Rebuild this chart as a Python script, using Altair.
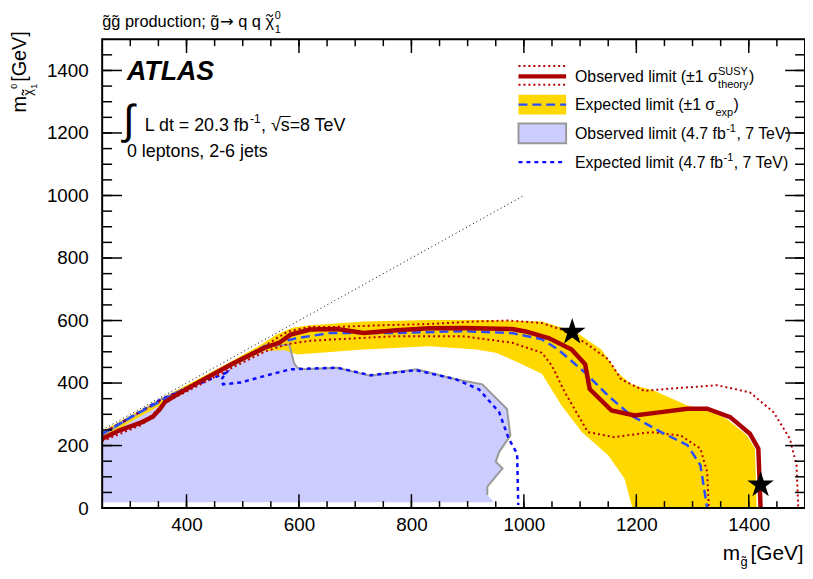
import altair as alt
import pandas as pd

# ---------------- data ----------------
# observed limit (8 TeV, 20.3 fb-1)
obs_x = [250, 280, 321, 340, 352, 362, 380, 421, 480, 539, 565, 585, 620, 668, 715, 774, 832, 891, 979,
         1003, 1044, 1085, 1109, 1117, 1156, 1197, 1244, 1291, 1326, 1367, 1402, 1417, 1421]
obs_y = [222, 248, 275, 292, 315, 340, 360, 402, 460, 513, 529, 555, 571, 573, 560, 569, 575, 576, 573,
         565, 544, 507, 460, 381, 312, 296, 307, 318, 318, 291, 238, 190, 0]
# observed +1 sigma(theory)
obs_up_x = [250, 300, 356, 420, 480, 540, 580, 620, 656, 750, 832, 915, 973, 1032, 1067, 1109,
            1150, 1173, 1214, 1267, 1344, 1402, 1444, 1473, 1485, 1488]
obs_up_y = [238, 290, 345, 405, 463, 520, 565, 580, 579, 585, 589, 597, 600, 592, 571, 529,
            476, 412, 375, 383, 393, 370, 307, 222, 137, 0]
# observed -1 sigma(theory)
obs_dn_x = [250, 321, 362, 421, 480, 539, 580, 620, 656, 774, 891, 979, 1032, 1050, 1073, 1114,
            1161, 1226, 1279, 1314, 1326, 1329]
obs_dn_y = [214, 267, 338, 392, 448, 500, 525, 535, 539, 550, 550, 529, 497, 455, 370, 243,
            227, 243, 232, 190, 116, 0]
# expected limit
exp_x = [250, 300, 356, 420, 480, 539, 597, 656, 774, 891, 979, 1032, 1061, 1109, 1150, 1191,
         1244, 1291, 1314, 1326]
exp_y = [238, 290, 344, 400, 460, 518, 544, 560, 560, 566, 560, 540, 507, 433, 359, 296,
         243, 201, 137, 0]
# expected +-1 sigma band (closed outline: upper edge, then lower edge back)
band_x = [250, 300, 356, 420, 480, 530, 560, 590, 620, 715, 832, 915, 1032, 1091, 1138, 1167,
          1191, 1232, 1291, 1325, 1361, 1397, 1411, 1414,
          1193, 1179, 1150, 1103, 1067, 1032, 985, 950, 915, 832, 715, 597, 575, 540, 480, 420,
          360, 300, 250]
band_y = [246, 296, 352, 412, 470, 520, 555, 578, 585, 597, 602, 602, 597, 565, 507, 433,
          396, 375, 328, 315, 285, 232, 190, 0,
          0, 95, 169, 243, 328, 430, 470, 497, 507, 518, 507, 491, 505, 503, 452, 395,
          335, 275, 218]
# observed limit 4.7 fb-1, 7 TeV (closed region)
old_obs_x = [250, 250, 356, 468, 550, 583, 591, 597, 609, 668, 727, 809, 879, 926, 970, 976,
             956, 950, 962, 935, 935, 947, 250]
old_obs_y = [19, 232, 349, 444, 518, 523, 465, 449, 444, 449, 423, 444, 412, 396, 317, 232,
             180, 148, 127, 69, 42, 19, 19]
# expected limit 4.7 fb-1, 7 TeV
old_exp_x = [250, 356, 471, 462, 465, 497, 550, 585, 668, 727, 809, 879, 920, 956, 973, 988, 990]
old_exp_y = [238, 349, 433, 412, 396, 402, 428, 444, 449, 425, 441, 412, 380, 307, 222, 174, 10]
# kinematic boundary m(LSP) = m(gluino)
diag_x = [250, 1000]
diag_y = [250, 1000]
# benchmark stars
star_x = [1086, 1421]
star_y = [563, 74]
# axis ticks
x_major = [400, 600, 800, 1000, 1200, 1400]
x_minor = list(range(300, 1500, 50))
y_major = [200, 400, 600, 800, 1000, 1200, 1400]
y_minor = list(range(50, 1500, 50))
y_labels = [0, 200, 400, 600, 800, 1000, 1200, 1400]

# ---------------- styling ----------------
W, H = 709, 473
FONT = "Liberation Sans"
RED = "#aa0000"
RED_DOT = "#b80000"
BLUE = "#2a4dff"
BLUE_DOT = "#0a0aff"
YELLOW = "#ffd800"
LAV = "#ccccff"
GRAY = "#999999"

xscale = alt.Scale(domain=[250, 1500], nice=False, zero=False)
yscale = alt.Scale(domain=[0, 1500], nice=False, zero=False)
xaxis = alt.Axis(values=x_major, format="d", ticks=False, domain=False, grid=False, labelFont=FONT,
                 labelFontSize=19, labelColor="black", labelPadding=8, labelFlush=False,
                 title=None)
yaxis = alt.Axis(values=y_labels, format="d", ticks=False, domain=False, grid=False, labelFont=FONT,
                 labelFontSize=19, labelColor="black", labelPadding=14, labelFlush=False,
                 title=None)
AX = alt.X("x:Q", scale=xscale, axis=xaxis)
AY = alt.Y("y:Q", scale=yscale, axis=yaxis)


def dxy(xv, yv):
    return pd.DataFrame({"x": xv, "y": yv, "i": list(range(len(xv)))})


def path(xv, yv, **mk):
    return alt.Chart(dxy(xv, yv)).mark_line(**mk).encode(x=AX, y=AY, order="i:Q")


ONE = pd.DataFrame({"a": [0]})

CW = {' ': 278, '(': 333, ')': 333, ',': 278, '-': 333, '.': 278, '=': 584, '[': 278, ']': 278,
      ';': 278, '±': 584, 'σ': 571, 'χ': 500, '→': 1000, '√': 549, '\u0303': 0,
      'A': 667, 'E': 667, 'G': 778, 'L': 556, 'O': 778, 'S': 667, 'T': 611, 'U': 722, 'V': 667,
      'Y': 667, 'a': 556, 'b': 556, 'c': 500, 'd': 556, 'e': 556, 'f': 278, 'g': 556, 'h': 556,
      'i': 222, 'j': 222, 'l': 222, 'm': 833, 'n': 556, 'o': 556, 'p': 556, 'q': 556, 'r': 333,
      's': 500, 't': 278, 'u': 556, 'v': 500, 'x': 500, 'y': 500}


def tw(s, size):
    return sum(CW.get(c, 556) for c in s) * size / 1000.0


def T(s, x, y, size, angle=0, weight="normal", style="normal", align="left", font=FONT):
    kw = dict(text=s, font=font, fontSize=size, align=align, baseline="alphabetic",
              color="black", fontWeight=weight, fontStyle=style)
    if angle:
        kw["angle"] = angle
    return alt.Chart(ONE).mark_text(**kw).encode(x=alt.value(x), y=alt.value(y))


TILDE = "M-1,0.3C-0.65,-0.45,-0.35,-0.45,0,0C0.35,0.45,0.65,0.45,1,-0.3"


def tilde(x, y, size=42, angle=0):
    kw = dict(shape=TILDE, filled=False, color="black", strokeWidth=1.1, size=size, opacity=1)
    if angle:
        kw["angle"] = angle
    return alt.Chart(ONE).mark_point(**kw).encode(x=alt.value(x), y=alt.value(y))


layers = []

# ---- data layers ----
layers.append(path(old_obs_x, old_obs_y, fill=LAV, strokeOpacity=0, fillOpacity=1))
layers.append(path(band_x, band_y, fill=YELLOW, strokeOpacity=0, fillOpacity=1))
layers.append(path(old_obs_x[1:-2], old_obs_y[1:-2], color=GRAY, strokeWidth=2))
layers.append(path(old_exp_x, old_exp_y, color=BLUE_DOT, strokeWidth=2.5, strokeDash=[4, 4]))
layers.append(path(obs_up_x, obs_up_y, color=RED_DOT, strokeWidth=2, strokeDash=[2, 3]))
layers.append(path(obs_dn_x, obs_dn_y, color=RED_DOT, strokeWidth=2, strokeDash=[2, 3]))
layers.append(path(exp_x, exp_y, color=BLUE, strokeWidth=2.5, strokeDash=[9, 5]))
layers.append(path(obs_x, obs_y, color=RED, strokeWidth=4.5))
layers.append(path(diag_x, diag_y, color="black", strokeWidth=1, strokeDash=[1, 3]))

STAR = ("M0,-1L0.2245,-0.309L0.951,-0.309L0.363,0.118L0.588,0.809L0,0.382L-0.588,0.809"
        "L-0.363,0.118L-0.951,-0.309L-0.2245,-0.309Z")
layers.append(alt.Chart(dxy(star_x, star_y)).mark_point(shape=STAR, filled=True, color="black",
                                                         opacity=1, size=800)
              .encode(x=AX, y=AY))

# ---- frame and inward ticks ----
def xticks(vals, length):
    d = pd.DataFrame({"x": vals})
    b = alt.Chart(d).mark_rule(color="black", strokeWidth=1.5).encode(
        x=AX, y=alt.value(H), y2=alt.value(H - length))
    t = alt.Chart(d).mark_rule(color="black", strokeWidth=1.5).encode(
        x=AX, y=alt.value(0), y2=alt.value(length))
    return [b, t]


def yticks(vals, length):
    d = pd.DataFrame({"y": vals})
    l = alt.Chart(d).mark_rule(color="black", strokeWidth=1.5).encode(
        y=AY, x=alt.value(0), x2=alt.value(length))
    r = alt.Chart(d).mark_rule(color="black", strokeWidth=1.5).encode(
        y=AY, x=alt.value(W), x2=alt.value(W - length))
    return [l, r]


layers += xticks(x_minor, 7) + xticks(x_major, 14) + yticks(y_minor, 10) + yticks(y_major, 20)
layers.append(alt.Chart(ONE).mark_rect(fillOpacity=0, stroke="black", strokeWidth=2).encode(
    x=alt.value(0), x2=alt.value(W), y=alt.value(0), y2=alt.value(H)))

# ---- texts ----
TS = 16.5
p1 = "g\u0303g\u0303 production; g\u0303"
layers.append(T(p1, 0, -12, TS))
xa = tw(p1, TS) + 0.5
layers.append(T("\u2192", xa, -12, TS, font="DejaVu Sans"))
xq = xa + 0.838 * TS + 0.278 * TS
layers.append(T("q q \u03c7", xq, -12, TS))
xchi = xq + tw("q q ", TS)
layers.append(tilde(xchi + tw("\u03c7", TS) / 2, -24))
tx = xchi + tw("\u03c7", TS) + 1
layers.append(T("0", tx, -20, 11))
layers.append(T("1", tx, -6, 11))

layers.append(T("ATLAS", 25, 41, 27, weight="bold", style="italic"))
layers.append(T("\u222b", 21, 96, 42))
s1 = "L dt = 20.3 fb"
layers.append(T(s1, 43, 93, 18))
x1 = 43 + tw(s1, 18) + 0.5
layers.append(T("-1", x1, 85, 12))
x2 = x1 + tw("-1", 12) + 0.5
s2 = ",  \u221as=8 TeV"
layers.append(T(s2, x2, 93, 18))
xs_ = x2 + tw(", \u221a", 18)
layers.append(alt.Chart(ONE).mark_rule(color="black", strokeWidth=1).encode(
    x=alt.value(xs_ - 1), x2=alt.value(xs_ + tw("s", 18) + 1), y=alt.value(78)))
layers.append(T("0 leptons, 2-6 jets", 25, 119, 18))

# y-axis title (rotated)
layers.append(T("m", -77, 74, 20, angle=270))
layers.append(T("\u03c7", -71, 57, 13, angle=270))
layers.append(tilde(-80, 57 - tw("\u03c7", 13) / 2, size=30, angle=270))
layers.append(T("0", -86, 50, 9, angle=270))
layers.append(T("1", -66, 50, 9, angle=270))
layers.append(T("[GeV]", -77, 43, 20, angle=270))

# x-axis title
layers.append(T("m", 626, 525, 21))
layers.append(T("g\u0303", 644, 531, 13))
layers.append(T("[GeV]", 654, 525, 21))

# ---- legend ----
LX0, LX1, TX = 420, 468, 477
# entry 1
layers.append(alt.Chart(ONE).mark_rule(color=RED, strokeWidth=4.5).encode(
    x=alt.value(LX0), x2=alt.value(LX1), y=alt.value(37.5)))
for yy in (27, 46):
    layers.append(alt.Chart(ONE).mark_rule(color=RED_DOT, strokeWidth=2, strokeDash=[2, 3]).encode(
        x=alt.value(LX0), x2=alt.value(LX1), y=alt.value(yy)))
e1 = "Observed limit (\u00b11 \u03c3"
layers.append(T(e1, TX, 43.5, 16))
ex = TX + tw(e1, 16) + 0.5
layers.append(T("SUSY", ex, 36, 11))
layers.append(T("theory", ex, 49, 11))
layers.append(T(")", ex + tw("theory", 11) + 0.5, 43.5, 16))
# entry 2
layers.append(alt.Chart(ONE).mark_rect(color=YELLOW).encode(
    x=alt.value(LX0), x2=alt.value(LX1), y=alt.value(56), y2=alt.value(76)))
layers.append(alt.Chart(ONE).mark_rule(color=BLUE, strokeWidth=2.5, strokeDash=[9, 5]).encode(
    x=alt.value(LX0), x2=alt.value(LX1), y=alt.value(66)))
e2 = "Expected limit (\u00b11 \u03c3"
layers.append(T(e2, TX, 71.5, 16))
ex = TX + tw(e2, 16) + 0.5
layers.append(T("exp", ex, 77, 11))
layers.append(T(")", ex + tw("exp", 11) + 0.5, 71.5, 16))
# entry 3
layers.append(alt.Chart(ONE).mark_rect(color=LAV, stroke=GRAY, strokeWidth=2).encode(
    x=alt.value(LX0), x2=alt.value(LX1), y=alt.value(85), y2=alt.value(105)))
e3 = "Observed limit (4.7 fb"
layers.append(T(e3, TX, 100.5, 16))
ex = TX + tw(e3, 16) + 0.5
layers.append(T("-1", ex, 94, 11))
layers.append(T(", 7 TeV)", ex + tw("-1", 11) + 0.5, 100.5, 16))
# entry 4
layers.append(alt.Chart(ONE).mark_rule(color=BLUE_DOT, strokeWidth=2.5, strokeDash=[4, 4]).encode(
    x=alt.value(LX0), x2=alt.value(LX1), y=alt.value(124)))
e4 = "Expected limit (4.7 fb"
layers.append(T(e4, TX, 129.5, 16))
ex = TX + tw(e4, 16) + 0.5
layers.append(T("-1", ex, 123, 11))
layers.append(T(", 7 TeV)", ex + tw("-1", 11) + 0.5, 129.5, 16))

chart = alt.layer(*layers).properties(
    width=W, height=H,
    padding={"left": 95, "top": 29, "right": 0, "bottom": 61},
    autosize="none",
    background="white",
).configure_view(strokeOpacity=0)

chart.save("out.html", embed_options={"renderer": "svg", "actions": False})
